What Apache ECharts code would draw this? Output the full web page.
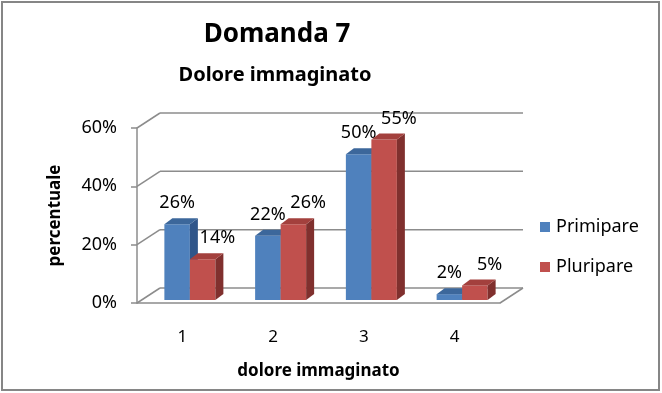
<!DOCTYPE html>
<html>
<head>
<meta charset="utf-8">
<script src="https://cdn.jsdelivr.net/npm/echarts@6/dist/echarts.min.js"></script>
<style>
html,body{margin:0;padding:0;background:#fff;}
#chart{width:662px;height:393px;}
</style>
</head>
<body>
<div id="chart"></div>
<script>
// ---- data ----
var categories = ['1', '2', '3', '4'];
var seriesNames = ['Primipare', 'Pluripare'];
var primipare = [0.26, 0.22, 0.50, 0.02];
var pluripare = [0.14, 0.26, 0.55, 0.05];
var yTicks = [0, 0.2, 0.4, 0.6];

// ---- styling ----
var FONT = 'Noto Sans';
var WALL_DX = 23, WALL_DY = -15;   // back wall offset
var BAR_DX = 7.5, BAR_DY = -3;     // bar placement depth offset
var DEPTH_DX = 8, DEPTH_DY = -6;   // bar depth
var GRID_COLOR = '#8c8c8c';
var palettes = [
  {front: '#4F81BD', top: '#3C679B', side: '#30568A'},
  {front: '#C0504D', top: '#A3403D', side: '#80302E'}
];

function pct(v) { return Math.round(v * 100) + '%'; }

var chart = echarts.init(document.getElementById('chart'), null, {renderer: 'canvas'});

function wallItem(params, api) {
  var cs = params.coordSys;
  var v = api.value(1);
  var y = api.coord([0, v])[1];
  var L = cs.x, R = cs.x + cs.width;
  var children = [
    {type: 'line', shape: {x1: L + WALL_DX, y1: y + WALL_DY, x2: R + WALL_DX, y2: y + WALL_DY},
     style: {stroke: GRID_COLOR, lineWidth: 1.5}},
    {type: 'line', shape: {x1: L, y1: y, x2: L + WALL_DX, y2: y + WALL_DY},
     style: {stroke: GRID_COLOR, lineWidth: 1.5}}
  ];
  if (v === 0) {
    children.push({type: 'line', shape: {x1: R, y1: y, x2: R + WALL_DX, y2: y + WALL_DY},
      style: {stroke: GRID_COLOR, lineWidth: 1.5}});
  }
  return {type: 'group', children: children};
}

function makeBarRender(idx) {
  var pal = palettes[idx];
  return function (params, api) {
    var ci = api.value(0);
    var v = api.value(1);
    var base = api.coord([ci, 0]);
    var top = api.coord([ci, v]);
    var band = api.size([1, 0])[0];
    var w = band * 0.281;
    var x0 = base[0] + BAR_DX - w + idx * w;
    var x1 = x0 + w;
    var yb = base[1] + BAR_DY;
    var yt = top[1] + BAR_DY;
    var front = [[x0, yb], [x1, yb], [x1, yt], [x0, yt]];
    var side = [[x1, yb], [x1 + DEPTH_DX, yb + DEPTH_DY], [x1 + DEPTH_DX, yt + DEPTH_DY], [x1, yt]];
    var topF = [[x0, yt], [x1, yt], [x1 + DEPTH_DX, yt + DEPTH_DY], [x0 + DEPTH_DX, yt + DEPTH_DY]];
    var lx = idx === 0 ? (x0 + x1) / 2 : x1 + DEPTH_DX - 6;
    var ly = yt - 21;
    return {
      type: 'group',
      children: [
        {type: 'polygon', shape: {points: front}, style: {fill: pal.front}},
        {type: 'polygon', shape: {points: side}, style: {fill: pal.side}},
        {type: 'polygon', shape: {points: topF}, style: {fill: pal.top}},
        {type: 'text', z2: 100, style: {text: pct(v), x: lx, y: ly, fill: '#000',
          fontSize: 18, fontFamily: FONT, align: 'center', verticalAlign: 'middle'}}
      ]
    };
  };
}

var option = {
  backgroundColor: '#fff',
  animation: false,
  title: [
    {text: 'Domanda 7', left: 272, top: 17, textAlign: 'center',
     textStyle: {fontFamily: FONT, fontWeight: 'bold', fontSize: 26, color: '#000'}},
    {text: 'Dolore immaginato', left: 270, top: 60, textAlign: 'center',
     textStyle: {fontFamily: FONT, fontWeight: 'bold', fontSize: 20, color: '#000'}}
  ],
  legend: {
    orient: 'vertical', left: 540, top: 218, padding: 0,
    itemWidth: 10, itemHeight: 10, itemGap: 22,
    icon: 'rect',
    data: seriesNames,
    textStyle: {fontFamily: FONT, fontSize: 18, color: '#000', padding: [0, 0, 0, 1]}
  },
  graphic: [
    {type: 'rect', shape: {x: 2, y: 2, width: 657, height: 388},
     style: {fill: 'none', stroke: '#868686', lineWidth: 2}, z: 100}
  ],
  grid: {left: 137, right: 162, top: 128, bottom: 90, containLabel: false},
  xAxis: {
    type: 'category', data: categories, boundaryGap: true,
    axisLine: {show: true, lineStyle: {color: GRID_COLOR, width: 1.5}},
    axisTick: {show: false},
    axisLabel: {fontFamily: FONT, fontSize: 17, color: '#000', margin: 26},
    name: 'dolore immaginato', nameLocation: 'middle', nameGap: 60,
    nameTextStyle: {fontFamily: FONT, fontWeight: 'bold', fontSize: 17, color: '#000'}
  },
  yAxis: {
    type: 'value', min: 0, max: 0.6, interval: 0.2,
    axisLine: {show: true, lineStyle: {color: GRID_COLOR, width: 1.5}},
    axisTick: {show: true, length: 6, lineStyle: {color: GRID_COLOR, width: 1.5}},
    splitLine: {show: false},
    axisLabel: {fontFamily: FONT, fontSize: 18, color: '#000', margin: 20, formatter: pct},
    name: 'percentuale', nameLocation: 'middle', nameGap: 73, nameRotate: 90,
    nameTextStyle: {fontFamily: FONT, fontWeight: 'bold', fontSize: 17, color: '#000'}
  },
  series: [
    {type: 'custom', name: '_walls', silent: true, z: 1,
     data: yTicks.map(function (t) { return [0, t]; }),
     renderItem: wallItem},
    {type: 'custom', name: seriesNames[0], z: 2, itemStyle: {color: palettes[0].front},
     data: primipare.map(function (v, i) { return [i, v]; }),
     renderItem: makeBarRender(0)},
    {type: 'custom', name: seriesNames[1], z: 3, itemStyle: {color: palettes[1].front},
     data: pluripare.map(function (v, i) { return [i, v]; }),
     renderItem: makeBarRender(1)}
  ]
};
chart.setOption(option);
</script>
</body>
</html>
